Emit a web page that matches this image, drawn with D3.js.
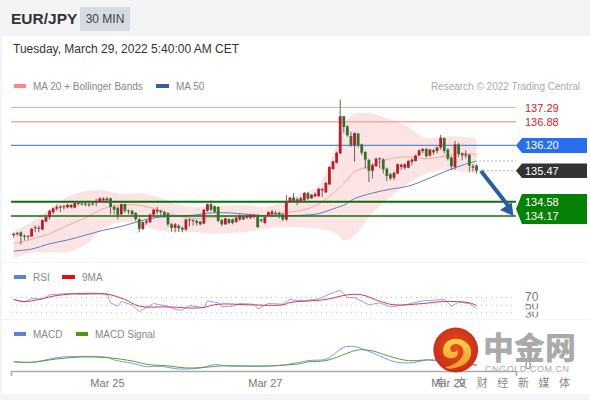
<!DOCTYPE html>
<html><head><meta charset="utf-8">
<style>html,body{margin:0;padding:0;background:#f3f4f6}svg{display:block}text{font-family:"Liberation Sans",Arial,sans-serif}</style>
<script src="https://cdn.jsdelivr.net/npm/d3@7"></script></head><body><div id="c"></div>
<script>
const pair="EUR/JPY", tf="30 MIN", stamp="Tuesday, March 29, 2022 5:40:00 AM CET", credit="Research © 2022 Trading Central";
const open=[133.62,133.65,133.70,133.60,133.58,133.58,133.82,133.82,133.78,134.01,134.14,134.28,134.38,134.41,134.42,134.42,134.42,134.41,134.52,134.53,134.53,134.51,134.51,134.56,134.59,134.62,134.62,134.68,134.43,134.41,134.22,134.51,134.33,134.32,134.26,134.08,133.80,133.98,133.99,134.21,134.30,134.32,134.28,134.24,133.93,133.83,133.89,133.83,133.78,134.05,134.03,134.03,134.01,133.95,134.32,134.51,134.45,134.43,134.05,133.93,134.08,134.07,134.00,134.07,134.17,134.12,134.12,134.14,134.18,134.07,133.97,134.18,134.22,134.26,134.26,134.22,134.07,134.57,134.70,134.59,134.60,134.62,134.83,134.68,134.74,134.74,134.91,134.85,135.08,135.52,135.70,135.97,137.04,136.75,136.47,136.21,136.54,136.23,136.01,135.78,135.47,135.60,135.81,135.80,135.53,135.37,135.27,135.39,135.58,135.56,135.56,135.73,135.75,135.91,136.04,136.10,135.91,136.06,136.04,136.14,136.41,136.08,135.85,135.58,136.23,135.97,135.91,135.93,135.56,135.62];
const close=[133.66,133.68,133.59,133.58,133.60,133.80,133.85,133.83,134.05,134.14,134.32,134.39,134.43,134.44,134.45,134.49,134.49,134.54,134.55,134.51,134.50,134.48,134.53,134.60,134.68,134.67,134.67,134.43,134.35,134.19,134.51,134.32,134.30,134.22,134.08,133.80,133.99,134.02,134.21,134.35,134.35,134.28,134.18,133.93,133.83,133.93,133.82,133.78,134.07,134.07,134.05,133.97,133.93,134.35,134.51,134.35,134.29,134.03,133.93,134.10,133.97,133.97,134.12,134.18,134.07,134.18,134.20,134.19,133.85,134.03,134.14,134.28,134.30,134.22,134.20,134.07,134.56,134.70,134.60,134.65,134.68,134.83,134.67,134.78,134.80,134.95,134.95,135.12,135.58,135.74,135.99,137.04,136.73,136.49,136.20,136.56,136.21,135.99,135.79,135.47,135.63,135.82,135.83,135.51,135.32,135.25,135.41,135.66,135.64,135.66,135.75,135.79,135.91,136.06,136.10,135.89,136.08,136.00,136.14,136.42,136.04,135.82,135.60,136.23,135.95,135.91,135.95,135.62,135.60,135.47];
const high=[133.69,133.71,133.73,133.64,133.62,133.82,133.90,133.90,134.07,134.22,134.35,134.41,134.49,134.47,134.49,134.52,134.51,134.56,134.57,134.57,134.57,134.55,134.57,134.66,134.70,134.71,134.72,134.70,134.49,134.43,134.53,134.53,134.36,134.35,134.28,134.12,134.01,134.07,134.24,134.37,134.43,134.35,134.32,134.28,133.97,133.97,133.93,133.87,134.09,134.10,134.08,134.07,134.03,134.37,134.53,134.62,134.47,134.45,134.09,134.12,134.10,134.10,134.14,134.22,134.21,134.22,134.22,134.24,134.22,134.09,134.16,134.30,134.35,134.32,134.30,134.26,134.77,134.72,134.83,134.70,134.72,134.86,134.86,134.80,134.85,134.97,134.97,135.15,135.60,135.76,136.02,137.52,137.04,136.78,136.59,136.56,136.56,136.25,136.04,135.82,135.68,135.85,135.85,135.83,135.56,135.41,135.45,135.68,135.68,135.68,135.79,135.83,135.93,136.08,136.12,136.12,136.10,136.10,136.16,136.50,136.43,136.12,135.89,136.33,136.27,136.00,136.06,135.95,135.66,135.66];
const low=[133.55,133.60,133.35,133.47,133.49,133.57,133.70,133.70,133.76,133.99,134.07,134.22,134.32,134.28,134.35,134.39,134.39,134.39,134.47,134.47,134.45,134.43,134.47,134.45,134.56,134.58,134.57,134.22,134.22,134.07,134.18,134.26,134.22,134.18,134.03,133.70,133.76,133.92,133.97,134.12,134.22,134.18,134.12,133.87,133.72,133.70,133.72,133.70,133.74,133.87,133.89,133.89,133.90,133.93,134.29,134.31,134.27,133.99,133.87,133.91,133.93,133.93,133.97,134.03,134.05,134.08,134.08,134.10,133.83,133.99,133.93,134.16,134.18,134.18,134.10,134.03,134.03,134.55,134.55,134.48,134.56,134.60,134.62,134.66,134.70,134.72,134.72,134.83,135.06,135.50,135.68,135.95,136.56,136.45,136.16,135.73,136.14,135.92,135.53,135.15,135.25,135.58,135.54,135.39,135.18,135.20,135.20,135.37,135.49,135.50,135.54,135.63,135.74,135.89,135.97,135.85,135.87,135.93,135.97,136.08,135.97,135.77,135.50,135.50,135.87,135.77,135.83,135.45,135.45,135.39];
const maIdx=[0,5,10,15,20,25,30,35,40,45,50,55,60,65,70,75,80,85,90,92,95,100,105,110,115,120,125,129];
const bandUpper=[133.71,134.00,134.38,134.72,134.89,134.91,134.80,134.83,134.72,134.53,134.43,134.45,134.48,134.48,134.43,134.57,134.81,135.05,136.25,136.83,137.10,137.12,136.95,136.73,136.40,136.45,136.45,136.40];
const bandLower=[132.96,133.11,133.13,133.13,133.34,133.82,134.00,133.95,133.76,133.71,133.71,133.66,133.68,133.71,133.81,133.85,133.85,133.81,133.66,133.47,133.61,134.24,134.72,135.10,135.39,135.49,135.44,135.39];
const ma20=[133.37,133.50,133.66,133.90,134.12,134.38,134.48,134.48,134.35,134.19,134.10,134.12,134.16,134.16,134.19,134.26,134.33,134.51,134.91,135.10,135.44,135.63,135.82,135.87,135.82,135.89,135.97,135.94];
const ma50=[133.16,133.22,133.37,133.48,133.62,133.76,133.87,134.02,134.13,134.17,134.19,134.26,134.26,134.22,134.18,134.18,134.19,134.24,134.41,134.48,134.67,134.83,134.94,135.03,135.22,135.44,135.63,135.75];
const rsiIdx=[0,3,5,8,10,15,19,26,27,29,30,33,35,39,43,45,47,49,53,54,57,58,61,63,67,68,71,75,77,80,82,85,88,91,93,95,99,102,105,109,114,120,122,124,127,129];
const rsi=[64.8,57.8,67.4,65.7,77,80.4,77.8,79.6,56,47.4,59.6,50.9,33.5,54.3,47.4,38.7,37,49.1,43.9,61.3,56.1,45.6,47.4,54.3,52.6,40.4,54.3,52.6,64.8,61.3,63,66.5,78.7,89.1,70,70,50.9,56.1,45.6,50.9,61.3,64.8,47.4,57.8,54.3,41.3];
const rsiMaIdx=[0,3,7,11,17,26,31,35,43,52,57,66,75,77,87,93,97,102,106,114,120,127,129];
const rsiMa=[64.8,59.6,64.8,73.5,79.6,78.7,64.8,47.4,45.6,43,52.6,50.9,50.9,57,64.8,77,77,60.4,50.9,54.3,59.6,56.1,49.1];
const rsiLevels=[70,50,30];
const macdIdx=[0,5,8,12,16,26,28,33,37,41,46,52,56,60,71,76,82,87,89,92,95,98,102,106,110,113,115,117,122,129];
const macd=[.05,.045,.07,.115,.13,.12,.08,.03,-.02,-.015,-.055,-.04,.01,-.01,-.01,.01,.07,.09,.155,.27,.28,.23,.14,.055,.035,.055,.08,.08,.08,0];
const signalIdx=[0,5,12,19,26,33,37,43,48,52,58,71,76,80,82,87,90,96,100,105,110,115,117,129];
const signal=[.055,.045,.095,.125,.115,.065,.015,-.01,-.04,-.035,-.01,-.01,.005,.025,.05,.07,.12,.23,.215,.13,.07,.08,.075,0];
const resist=[137.29,136.88], pivot=136.20, last=135.47, support=[134.58,134.17];
const dateTicks=[26,70,121], dateLabels=["Mar 25","Mar 27","Mar 29"];

const svg=d3.select("#c").append("svg").attr("width",590).attr("height",400);
const defs=svg.append("defs");
svg.append("rect").attr("width",590).attr("height",400).attr("fill","#f3f4f6");
svg.append("rect").attr("x",2).attr("y",36).attr("width",588).attr("height",226).attr("fill","#fff");
svg.append("rect").attr("x",2).attr("y",263).attr("width",588).attr("height",56).attr("fill","#fff");
svg.append("rect").attr("x",2).attr("y",320).attr("width",588).attr("height",74).attr("fill","#fff");

const x=d3.scaleLinear().domain([-0.75,140]).range([11,516]);
const y=d3.scaleLinear().domain([134.17,137.29]).range([216,107.5]);
const yR=d3.scaleLinear().domain([30,70]).range([312.9,297.5]);
const yM=d3.scaleLinear().domain([0,.28]).range([365.3,346.6]);
const xEnd=x.range()[1];

svg.append("text").attr("x",11).attr("y",24).attr("font-size",15.5).attr("font-weight","bold").attr("fill","#333").text(pair);
svg.append("rect").attr("x",80).attr("y",7).attr("width",50).attr("height",24).attr("fill","#d6dae2");
svg.append("text").attr("x",105).attr("y",23).attr("text-anchor","middle").attr("font-size",12).attr("fill","#444").text(tf);
svg.append("text").attr("x",13).attr("y",53).attr("font-size",12).attr("fill","#333").text(stamp);
function legend(lx,ly,w,col,t){
  svg.append("rect").attr("x",lx).attr("y",ly-2).attr("width",w).attr("height",4).attr("fill",col);
  svg.append("text").attr("x",lx+w+7).attr("y",ly+4).attr("font-size",10).attr("fill","#888").text(t);
}
legend(14,86,12,"#ff8585","MA 20 + Bollinger Bands");
legend(156,86,13,"#3a5f9e","MA 50");
svg.append("text").attr("x",580).attr("y",90).attr("text-anchor","end").attr("font-size",10).attr("fill","#aaa").text(credit);
legend(14,277,12,"#6080d8","RSI");
legend(62,277,13,"#e01010","9MA");
legend(14,334,12,"#6080d8","MACD");
legend(76,334,12,"#4a9a10","MACD Signal");

const bandArea=d3.area().x((d,i)=>x(maIdx[i])).y0((d,i)=>y(bandLower[i])).y1(d=>y(d)).curve(d3.curveCatmullRom);
svg.append("path").attr("d",bandArea(bandUpper)).attr("fill","#fde4e4");
const lineOn=(idx,sc)=>d3.line().x((d,i)=>x(idx[i])).y(d=>sc(d));
const smooth=(idx,sc)=>lineOn(idx,sc).curve(d3.curveCatmullRom);
svg.append("path").attr("d",smooth(maIdx,y)(ma20)).attr("fill","none").attr("stroke","#f6a5a0").attr("stroke-width",1);
svg.append("path").attr("d",smooth(maIdx,y)(ma50)).attr("fill","none").attr("stroke","#5c7fb8").attr("stroke-width",1);

svg.selectAll("line.res").data(resist).join("line").attr("x1",11).attr("x2",xEnd).attr("y1",d=>y(d)).attr("y2",d=>y(d))
  .attr("stroke","#f2ab9e").attr("stroke-width",(d,i)=>i?1.6:1.2);
svg.append("line").attr("x1",11).attr("x2",xEnd).attr("y1",y(pivot)).attr("y2",y(pivot)).attr("stroke","#5a8ad0").attr("stroke-width",1.2);
svg.selectAll("line.sup").data(support).join("line").attr("x1",11).attr("x2",xEnd).attr("y1",d=>y(d)).attr("y2",d=>y(d))
  .attr("stroke","#0f6e0f").attr("stroke-width",(d,i)=>i?1.6:2);

const c=svg.append("g");
open.forEach((o,i)=>{
  const cl=close[i], up=cl>=o;
  c.append("line").attr("x1",x(i)).attr("x2",x(i)).attr("y1",y(high[i])).attr("y2",y(low[i])).attr("stroke","#666").attr("stroke-width",1);
  c.append("rect").attr("x",x(i)-1.4).attr("width",2.8).attr("y",y(Math.max(o,cl))).attr("height",Math.max(1,Math.abs(y(o)-y(cl))))
    .attr("fill",up?"#b3202a":"#37702f");
});
svg.selectAll("line.dot").data([135.75,last]).join("line").attr("x1",x(129)+3).attr("x2",xEnd).attr("y1",d=>y(d)).attr("y2",d=>y(d))
  .attr("stroke","#666").attr("stroke-dasharray","1 3");

svg.selectAll("text.res").data(resist).join("text").attr("x",525).attr("y",d=>y(d)+4).attr("font-size",11).attr("fill","#c8242c").text(d=>d.toFixed(2));
function tag(y0,y1,col){
  const m=(y0+y1)/2;
  svg.append("path").attr("d",`M516 ${m}L522 ${y0}H587V${y1}H522Z`).attr("fill",col);
}
tag(138,153,"#2a6ef0"); tag(163.5,178,"#333");
tag(194,224,"#078007");
const tagText=(v)=>svg.append("text").attr("x",525).attr("y",y(v)+4).attr("font-size",11).attr("fill","#fff").text(v.toFixed(2));
[pivot,last,...support].forEach(tagText);

svg.append("line").attr("x1",481).attr("y1",171).attr("x2",508).attr("y2",205.5).attr("stroke","#2b5d9f").attr("stroke-width",4);
svg.append("path").attr("d","M500 210L513.5 216L511.7 202.5Z").attr("fill","#2b5d9f");

svg.selectAll("line.rl").data(rsiLevels).join("line").attr("x1",11).attr("x2",xEnd).attr("y1",d=>yR(d)).attr("y2",d=>yR(d)).attr("stroke","#bbb").attr("stroke-dasharray","1 4");
const clipTop=[288,303.5,311.5], clipBot=[303,309.5,317.5], labelBase=[301,309.5,318];
rsiLevels.forEach((lv,i)=>{
  defs.append("clipPath").attr("id","rc"+i).append("rect").attr("x",520).attr("y",clipTop[i]).attr("width",24).attr("height",clipBot[i]-clipTop[i]);
  svg.append("text").attr("x",525).attr("y",labelBase[i]).attr("font-size",12).attr("fill","#777").attr("clip-path",`url(#rc${i})`).text(lv);
});
svg.append("path").attr("d",lineOn(rsiIdx,yR)(rsi)).attr("fill","none").attr("stroke","#6f8fe0").attr("stroke-width",.8);
svg.append("path").attr("d",smooth(rsiMaIdx,yR)(rsiMa)).attr("fill","none").attr("stroke","#d8384a").attr("stroke-width",1);

svg.append("path").attr("d",smooth(macdIdx,yM)(macd)).attr("fill","none").attr("stroke","#6f8fe0").attr("stroke-width",.9);
svg.append("path").attr("d",smooth(signalIdx,yM)(signal)).attr("fill","none").attr("stroke","#5aa02c").attr("stroke-width",1);
svg.append("text").attr("x",525).attr("y",yM(0)+4).attr("font-size",11).attr("fill","#777").text("0");

const ax=svg.append("g").attr("transform","translate(0,371)").call(d3.axisBottom(x).tickValues(dateTicks).tickFormat((d,i)=>dateLabels[i]).tickSizeInner(0).tickSizeOuter(5).tickPadding(8));
ax.select(".domain").attr("stroke","#aaa").attr("stroke-width",1.6);
ax.selectAll("text").attr("font-size",11).attr("fill","#777").attr("font-family","Liberation Sans");
ax.selectAll(".tick line").remove();

// watermark
const wm=svg.append("g");
const grad=defs.append("radialGradient").attr("id","lg").attr("cx","50%").attr("cy","45%").attr("r","60%");
grad.append("stop").attr("offset","0%").attr("stop-color","#e8501c");
grad.append("stop").attr("offset","100%").attr("stop-color","#c42a18");
const gold=defs.append("linearGradient").attr("id","ly").attr("x1","0").attr("y1","0").attr("x2","0").attr("y2","1");
gold.append("stop").attr("offset","0%").attr("stop-color","#f9d24a");
gold.append("stop").attr("offset","100%").attr("stop-color","#f09a28");
wm.append("circle").attr("cx",455.7).attr("cy",350).attr("r",22.4).attr("fill","url(#lg)");
wm.append("path").attr("d","M443 351C443 342 451 338 458 339C466 340 472 346 471 354C470 362 462 367 454 368C451 369 447 369 445 367C452 366 460 362 463 355C465 349 461 344 456 344C451 344 449 348 451 351C453 353 456 352 457 350C459 353 458 357 453 358C447 359 443 356 443 351Z").attr("fill","url(#ly)");
wm.append("text").attr("x",483).attr("y",359).attr("font-size",31).attr("font-weight",900).attr("fill","#aaa").attr("style","font-family:'Noto Sans CJK SC'").text("中金网");
wm.append("text").attr("x",485).attr("y",372).attr("font-size",9).attr("letter-spacing",.55).attr("fill","#aaa").text("CNGOLD.COM.CN");
wm.append("text").attr("x",435.5).attr("y",387).attr("font-size",11).attr("letter-spacing",9.6).attr("fill","#888").attr("style","font-family:'Noto Sans CJK SC'").text("中文财经新媒体");
</script></body></html>
